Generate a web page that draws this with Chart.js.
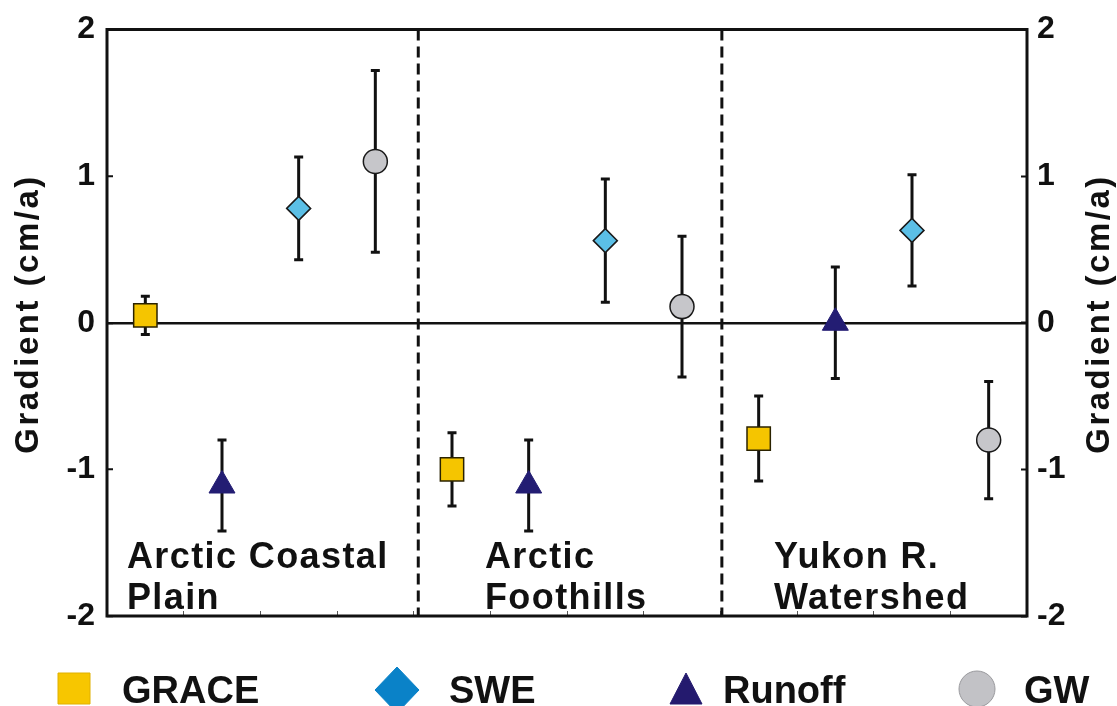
<!DOCTYPE html>
<html>
<head>
<meta charset="utf-8">
<script src="https://cdn.jsdelivr.net/npm/chart.js@4.4.0/dist/chart.umd.min.js"></script>
<style>
    html, body { margin: 0; padding: 0; background: #fff; }
    #chartWrap { width: 1117px; height: 706px; }
</style>
</head>
<body>
<div id="chartWrap"><canvas id="gradientChart" width="1117" height="706"></canvas></div>
<script>
// x positions of the four series inside each region (0..12 axis, 4 units per region)
var graceX = [0.5, 4.5, 8.5];
var runoffX = [1.5, 5.5, 9.5];
var sweX = [2.5, 6.5, 10.5];
var gwX = [3.5, 7.5, 11.5];

// gradients (cm/a) and their error half widths
var graceValues = [0.05, -1.00, -0.79];
var graceErrors = [0.13, 0.25, 0.29];
var runoffValues = [-1.11, -1.11, 0.00];
var runoffErrors = [0.31, 0.31, 0.38];
var sweValues = [0.78, 0.56, 0.63];
var sweErrors = [0.35, 0.42, 0.38];
var gwValues = [1.10, 0.11, -0.80];
var gwErrors = [0.62, 0.48, 0.40];

var regionNames = [['Arctic Coastal', 'Plain'], ['Arctic', 'Foothills'], ['Yukon R.', 'Watershed']];
var regionBounds = [4.06, 8.02];
var yTicks = [-2, -1, 0, 1, 2];
var axisTitle = 'Gradient (cm/a)';

var fontFamily = '"Liberation Sans", Arial, Helvetica, sans-serif';

function toPoints(xs, ys) {
    return xs.map(function (x, i) { return { x: x, y: ys[i] }; });
}

var errorBarPlugin = {
    id: 'errorBars',
    beforeDatasetsDraw: function (chart) {
        var ctx = chart.ctx;
        var xScale = chart.scales.x;
        var yScale = chart.scales.y;
        var area = chart.chartArea;
        ctx.save();
        ctx.strokeStyle = '#111';
        ctx.lineWidth = 3;
        //dashed region separators
        ctx.setLineDash([11, 6]);
        regionBounds.forEach(function (b) {
            var px = xScale.getPixelForValue(b);
            ctx.beginPath();
            ctx.moveTo(px, area.top);
            ctx.lineTo(px, area.bottom);
            ctx.stroke();
        });
        ctx.setLineDash([]);
        ctx.strokeRect(area.left, area.top, area.right - area.left, area.bottom - area.top);
        //error bars
        chart.data.datasets.forEach(function (ds) {
            ds.data.forEach(function (pt, i) {
                var px = xScale.getPixelForValue(pt.x);
                var top = yScale.getPixelForValue(pt.y + ds.errors[i]);
                var bot = yScale.getPixelForValue(pt.y - ds.errors[i]);
                ctx.beginPath();
                ctx.moveTo(px, top);
                ctx.lineTo(px, bot);
                ctx.moveTo(px - 4.5, top);
                ctx.lineTo(px + 4.5, top);
                ctx.moveTo(px - 4.5, bot);
                ctx.lineTo(px + 4.5, bot);
                ctx.stroke();
            });
        });
        ctx.restore();
    }
};

var labelPlugin = {
    id: 'labels',
    afterDraw: function (chart) {
        var ctx = chart.ctx;
        var xScale = chart.scales.x;
        var yScale = chart.scales.y;
        ctx.save();
        ctx.fillStyle = '#111';

        //axis titles, left and right
        ctx.font = 'bold 33px ' + fontFamily;
        ctx.letterSpacing = '2.5px';
        ctx.textAlign = 'center';
        ctx.textBaseline = 'middle';
        [29, 1100].forEach(function (tx) {
            ctx.save();
            ctx.translate(tx, 314);
            ctx.rotate(-Math.PI / 2);
            ctx.fillText(axisTitle, 0, 0);
            ctx.restore();
        });

        //region names
        var labelX = [0.26, 4.93, 8.70];
        ctx.font = 'bold 36px ' + fontFamily;
        ctx.letterSpacing = '1.4px';
        ctx.textAlign = 'left';
        ctx.textBaseline = 'alphabetic';
        regionNames.forEach(function (lines, i) {
            var px = xScale.getPixelForValue(labelX[i]);
            ctx.fillText(lines[0], px, yScale.getPixelForValue(-1.67));
            ctx.fillText(lines[1], px, yScale.getPixelForValue(-1.955));
        });

        //legend
        ctx.letterSpacing = '0px';
        ctx.font = 'bold 38px ' + fontFamily;
        var legendX = [58, 375, 670, 959];
        var legendTextX = [122, 449, 723, 1024];
        var cy = 689;
        chart.data.datasets.forEach(function (ds, i) {
            var lx = legendX[i];
            ctx.fillStyle = ds.legendColor;
            ctx.strokeStyle = ds.legendBorder;
            ctx.lineWidth = 1;
            ctx.beginPath();
            if (ds.pointStyle === 'rect') {
                ctx.rect(lx, 673, 32, 31);
            } else if (ds.pointStyle === 'rectRot') {
                ctx.moveTo(lx + 22, 667);
                ctx.lineTo(lx + 44, cy + 1);
                ctx.lineTo(lx + 22, 713);
                ctx.lineTo(lx, cy + 1);
                ctx.closePath();
            } else if (ds.pointStyle === 'triangle') {
                ctx.moveTo(lx + 16, 673);
                ctx.lineTo(lx + 32, 704);
                ctx.lineTo(lx, 704);
                ctx.closePath();
            } else {
                ctx.arc(lx + 18, cy, 18, 0, Math.PI * 2);
            }
            ctx.fill();
            ctx.stroke();
            ctx.fillStyle = '#111';
            ctx.fillText(ds.label, legendTextX[i], 703);
        });
        ctx.restore();
    }
};

var chartData = {
    datasets: [
        {
            label: 'GRACE',
            data: toPoints(graceX, graceValues),
            errors: graceErrors,
            pointStyle: 'rect',
            pointRadius: 16.5,
            backgroundColor: '#f5c500',
            borderColor: '#2a2200',
            borderWidth: 1.5,
            legendColor: '#f7c600',
            legendBorder: '#e0b000'
        },
        {
            label: 'SWE',
            data: toPoints(sweX, sweValues),
            errors: sweErrors,
            pointStyle: 'rectRot',
            pointRadius: 12,
            backgroundColor: '#5bbfe6',
            borderColor: '#1a1a1a',
            borderWidth: 1.5,
            legendColor: '#0a82c8',
            legendBorder: '#0a82c8'
        },
        {
            label: 'Runoff',
            data: toPoints(runoffX, runoffValues),
            errors: runoffErrors,
            pointStyle: 'triangle',
            pointRadius: 15,
            backgroundColor: '#231d73',
            borderColor: '#231d73',
            borderWidth: 1,
            legendColor: '#241a6e',
            legendBorder: '#241a6e'
        },
        {
            label: 'GW',
            data: toPoints(gwX, gwValues),
            errors: gwErrors,
            pointStyle: 'circle',
            pointRadius: 12,
            backgroundColor: '#c6c6ca',
            borderColor: '#1a1a1a',
            borderWidth: 1.5,
            legendColor: '#c2c2c6',
            legendBorder: '#9a9a9e'
        }
    ]
};

var chartOptions = {
    responsive: false,
    animation: false,
    devicePixelRatio: 1,
    layout: { padding: { top: 29.5, left: 0, right: 0, bottom: 0 } },
    plugins: {
        legend: { display: false },
        tooltip: { enabled: false }
    },
    elements: { point: { hoverRadius: 0 } },
    scales: {
        x: {
            type: 'linear',
            min: 0,
            max: 12,
            ticks: { stepSize: 1, display: false },
            border: { display: false },
            grid: {
                drawOnChartArea: false,
                drawTicks: true,
                tickLength: -5,
                tickColor: '#555',
                tickWidth: 1
            },
            afterFit: function (scale) { scale.height = 90; }
        },
        y: {
            position: 'left',
            min: -2,
            max: 2,
            afterBuildTicks: function (scale) {
                scale.ticks = yTicks.map(function (v) { return { value: v }; });
            },
            ticks: {
                color: '#111',
                padding: 18,
                font: { family: fontFamily, size: 32, weight: 'bold', lineHeight: 0.5 }
            },
            border: { display: false },
            grid: {
                color: function (c) { return c.tick && c.tick.value === 0 ? '#111' : 'rgba(0,0,0,0)'; },
                lineWidth: 2.5,
                drawTicks: true,
                tickLength: -6,
                tickColor: '#111',
                tickWidth: 2
            },
            afterFit: function (scale) { scale.width = 107; }
        },
        y2: {
            position: 'right',
            min: -2,
            max: 2,
            afterBuildTicks: function (scale) {
                scale.ticks = yTicks.map(function (v) { return { value: v }; });
            },
            ticks: {
                color: '#111',
                padding: 16,
                font: { family: fontFamily, size: 32, weight: 'bold', lineHeight: 0.5 }
            },
            border: { display: false },
            grid: {
                drawOnChartArea: false,
                drawTicks: true,
                tickLength: -6,
                tickColor: '#111',
                tickWidth: 2
            },
            afterFit: function (scale) { scale.width = 90; }
        }
    }
};

var gradientChart = new Chart(document.getElementById('gradientChart').getContext('2d'), {
    type: 'scatter',
    data: chartData,
    options: chartOptions,
    plugins: [errorBarPlugin, labelPlugin]
});
</script>
</body>
</html>
